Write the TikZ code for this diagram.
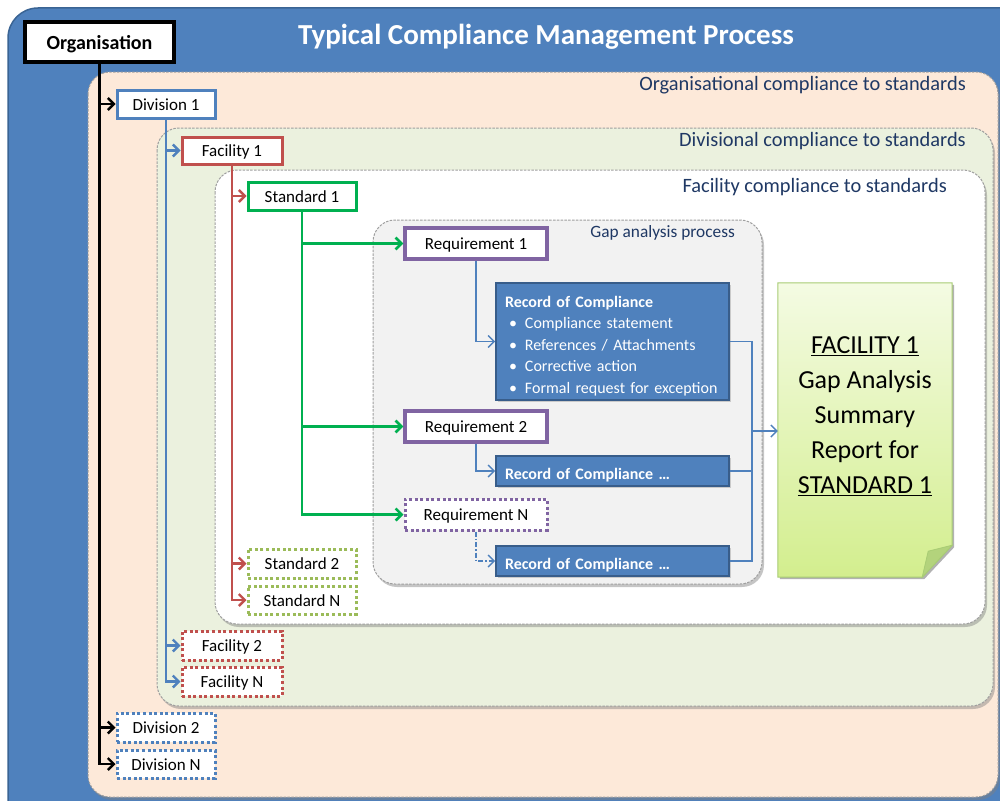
\documentclass[tikz,border=0pt]{standalone}
\usepackage{fontspec}
\setmainfont{Carlito}
\usetikzlibrary{arrows.meta,shadows,calc}
\definecolor{outerblue}{HTML}{4F81BD}
\definecolor{outerbd}{HTML}{3A6494}
\definecolor{peach}{HTML}{FDE9D9}
\definecolor{lgreen}{HTML}{EBF1DE}
\definecolor{gapgray}{HTML}{F2F2F2}
\definecolor{navy}{HTML}{1F3864}
\definecolor{cblue}{HTML}{4F81BD}
\definecolor{cred}{HTML}{C0504D}
\definecolor{cgreen}{HTML}{00B050}
\definecolor{cpurple}{HTML}{8064A2}
\definecolor{colive}{HTML}{9BBB59}
\definecolor{rocbd}{HTML}{385D8A}
\definecolor{reptop}{HTML}{F4FBE3}
\definecolor{repbot}{HTML}{D3EE8E}
\definecolor{repbd}{HTML}{A8CC74}
\definecolor{repfold}{HTML}{B3D37C}
\begin{document}
\begin{tikzpicture}[x=1pt,y=-1pt,
  cont/.style={draw=gray!75, line width=1pt, dash pattern=on 2.5pt off 1.3pt,
    rounded corners=22pt, drop shadow={shadow xshift=2pt, shadow yshift=-3pt, opacity=0.45}},
  lbl/.style={anchor=east, text=navy, font=\fontsize{20.4}{24}\selectfont, inner sep=0pt},
  box/.style={draw, fill=white, line width=3pt, inner sep=0pt,
    font=\fontsize{17}{20}\selectfont, text height=12.5pt, text depth=0pt,
    drop shadow={shadow xshift=1.5pt, shadow yshift=-2pt, opacity=0.3}},
  dotbox/.style={draw, fill=white, line width=3pt, inner sep=0pt,
    font=\fontsize{17}{20}\selectfont, text height=12.5pt, text depth=0pt,
    dash pattern=on 3pt off 2.6pt},
  rocbox/.style={draw=rocbd, fill=cblue, line width=1.8pt, text=white,
    minimum width=233pt, inner sep=0pt,
    drop shadow={shadow xshift=1.5pt, shadow yshift=-2pt, opacity=0.35}},
  rocsmall/.style={rocbox, minimum height=30pt, text width=215pt, align=left,
    font=\fontsize{16}{20}\selectfont\bfseries, text height=16pt, text depth=0pt},
  tree/.style={line width=2.4pt, -{Straight Barb[length=6pt,width=12pt]}},
  thinarr/.style={draw=cblue, line width=1.4pt, -{Straight Barb[length=6pt,width=12pt]}},
  thinline/.style={draw=cblue, line width=1.4pt}
]
\useasboundingbox (0,0) rectangle (1000,800);
\clip (0,0) rectangle (1000,800);
\fill[white] (0,0) rectangle (1000,800);

% outer blue frame
\draw[fill=outerblue, draw=outerbd, line width=1.5pt, rounded corners=30pt] (8,8) rectangle (1040,840);
\node[text=white, font=\fontsize{29}{34}\selectfont\bfseries] (title) at (546,37) {Typical Compliance Management Process};

% nested containers
\draw[cont, fill=peach] (88,72) rectangle (998,797);
\node[lbl] (orglbl) at (966,85) {Organisational compliance to standards};
\draw[cont, fill=lgreen] (157,128) rectangle (993,706);
\node[lbl] (divlbl) at (966,141) {Divisional compliance to standards};
\draw[cont, fill=white] (215,170) rectangle (985,624);
\node[lbl] (faclbl) at (947,187) {Facility compliance to standards};
\draw[cont, fill=gapgray] (373,220) rectangle (762,584);
\node[lbl, font=\fontsize{17.3}{20}\selectfont] (gaplbl) at (735,233) {Gap analysis process};

% hierarchy boxes
\node[box, draw=black, line width=3.5pt, minimum width=149pt, minimum height=40pt,
  font=\fontsize{20}{24}\selectfont\bfseries, text height=14pt] (org) at (99.5,42) {Organisation};
\node[box, draw=cblue, minimum width=98pt, minimum height=28pt] (div1) at (166,104) {Division 1};
\node[box, draw=cred, minimum width=100pt, minimum height=27pt] (fac1) at (232,150.5) {Facility 1};
\node[box, draw=cgreen, minimum width=108pt, minimum height=28pt] (std1) at (302,196) {Standard 1};
\node[box, draw=cpurple, line width=3.2pt, minimum width=142pt, minimum height=31pt] (req1) at (476,243.5) {Requirement 1};
\node[box, draw=cpurple, line width=3.2pt, minimum width=142pt, minimum height=31pt] (req2) at (476,426.5) {Requirement 2};
\node[dotbox, draw=cpurple, minimum width=142pt, minimum height=31pt] (reqN) at (476,514.5) {Requirement N};
\node[dotbox, draw=colive, minimum width=108pt, minimum height=29pt] (std2) at (302,563.5) {Standard 2};
\node[dotbox, draw=colive, minimum width=108pt, minimum height=28pt] (stdN) at (302,600) {Standard N};
\node[dotbox, draw=cred, minimum width=100pt, minimum height=29pt] (fac2) at (232,645.5) {Facility 2};
\node[dotbox, draw=cred, minimum width=100pt, minimum height=29pt] (facN) at (232,681.5) {Facility N};
\node[dotbox, draw=cblue, minimum width=98pt, minimum height=29pt] (div2) at (166,727.5) {Division 2};
\node[dotbox, draw=cblue, minimum width=98pt, minimum height=28pt] (divN) at (166,764) {Division N};

% records of compliance
\node[rocbox, minimum height=117pt, text width=215pt, align=left,
  font=\fontsize{16}{21.4}\selectfont] (roc1) at (612.5,341.5)
  {\rule{0pt}{20pt}{\bfseries Record of Compliance}\\
   \makebox[20pt][l]{\hspace{4pt}\textbullet}Compliance statement\\
   \makebox[20pt][l]{\hspace{4pt}\textbullet}References / Attachments\\
   \makebox[20pt][l]{\hspace{4pt}\textbullet}Corrective action\\
   \makebox[20pt][l]{\hspace{4pt}\textbullet}Formal request for exception};
\node[rocsmall] (roc2) at (612.5,471) {Record of Compliance \dots};
\node[rocsmall] (rocN) at (612.5,561) {Record of Compliance \dots};

% summary report (folded note)
\node[minimum width=174pt, minimum height=294pt, inner sep=0pt] (report) at (865,430) {};
\fill[black, opacity=0.3] ($(report.north west)+(2,2)$) -- ($(report.north east)+(2,2)$)
  -- ($(report.south east)+(2,-30)$) -- ($(report.south east)+(-28,2)$) -- ($(report.south west)+(2,2)$) -- cycle;
\draw[draw=repbd, line width=1pt, top color=reptop, bottom color=repbot]
  (report.north west) -- (report.north east) -- ($(report.south east)+(0,-32)$)
  -- ($(report.south east)+(-30,0)$) -- (report.south west) -- cycle;
\draw[draw=repbd, line width=0.8pt, fill=repfold]
  ($(report.south east)+(0,-32)$) -- ($(report.south east)+(-24,-26)$) -- ($(report.south east)+(-30,0)$) -- cycle;
\node[align=center, font=\fontsize{26}{35}\selectfont, inner sep=0pt] (reptxt) at (865,416)
  {\underline{FACILITY 1}\\Gap Analysis\\Summary\\Report for\\\underline{STANDARD 1}};

% tree connectors
\draw[tree, draw=black] (org.south) |- (div1.west);
\draw[tree, draw=black] (org.south) |- (div2.west);
\draw[tree, draw=black] (org.south) |- (divN.west);
\draw[tree, draw=cblue] (div1.south) |- (fac1.west);
\draw[tree, draw=cblue] (div1.south) |- (fac2.west);
\draw[tree, draw=cblue] (div1.south) |- (facN.west);
\draw[tree, draw=cred] (fac1.south) |- (std1.west);
\draw[tree, draw=cred] (fac1.south) |- (std2.west);
\draw[tree, draw=cred] (fac1.south) |- (stdN.west);
\draw[tree, draw=cgreen, line width=2.6pt] (std1.south) |- (req1.west);
\draw[tree, draw=cgreen, line width=2.6pt] (std1.south) |- (req2.west);
\draw[tree, draw=cgreen, line width=2.6pt] (std1.south) |- (reqN.west);

% requirement to record
\draw[thinarr] (req1.south) |- (roc1.west);
\draw[thinarr] (req2.south) |- (roc2.west);
\draw[thinarr, dash pattern=on 5pt off 2pt on 1.5pt off 2pt] (reqN.south) |- (rocN.west);

% records to report
\coordinate (bus) at (752,431);
\draw[thinline] (roc1.east) -| (bus);
\draw[thinline] (roc2.east) -| (bus);
\draw[thinline] (rocN.east) -| (bus);
\draw[thinarr] (bus) -- (report.west |- bus);
\end{tikzpicture}
\end{document}
